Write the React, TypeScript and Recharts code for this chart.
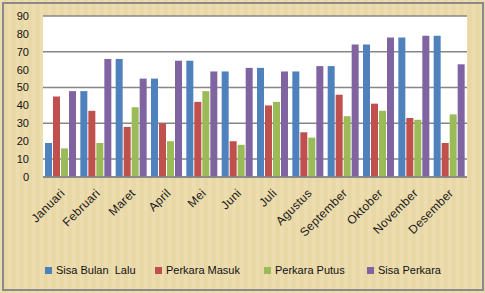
import React from 'react';
import { BarChart, Bar, XAxis, YAxis, CartesianGrid } from 'recharts';

const months = ['Januari','Februari','Maret','April','Mei','Juni','Juli','Agustus','September','Oktober','November','Desember'];
const sisaBulanLalu = [19, 48, 66, 55, 65, 59, 61, 59, 62, 74, 78, 79];
const perkaraMasuk = [45, 37, 28, 30, 42, 20, 40, 25, 46, 41, 33, 19];
const perkaraPutus = [16, 19, 39, 20, 48, 18, 42, 22, 34, 37, 32, 35];
const sisaPerkara = [48, 66, 55, 65, 59, 61, 59, 62, 74, 78, 79, 63];
const yTicks = [0, 10, 20, 30, 40, 50, 60, 70, 80, 90];

const seriesNames = ['Sisa Bulan  Lalu', 'Perkara Masuk', 'Perkara Putus', 'Sisa Perkara'];
const seriesKeys = ['a', 'b', 'c', 'd'];
const colors = ['#4F81BD', '#C0504D', '#9BBB59', '#8064A2'];

const data = months.map((m, i) => ({
  name: m,
  a: sisaBulanLalu[i],
  b: perkaraMasuk[i],
  c: perkaraPutus[i],
  d: sisaPerkara[i],
}));

const FONT = '"Liberation Sans", Arial, sans-serif';

const XTick = (props: any) => {
  const { x, payload } = props;
  const ty = 191;
  const tx = x + 2;
  return (
    <text x={tx} y={ty} textAnchor="end" fontSize={12} letterSpacing={0.3} fontFamily={FONT} fill="#1a1a1a"
      transform={`rotate(-45, ${tx}, ${ty})`} dominantBaseline="central">
      {payload.value}
    </text>
  );
};

const legendX = [45, 155, 264, 367];

export default function App() {
  return (
    <div style={{ position: 'absolute', left: 0, top: 0, width: 485, height: 293, background: '#ebdaa9',
      backgroundImage: 'repeating-linear-gradient(90deg, rgba(255,255,255,0.07) 0px, rgba(255,255,255,0.07) 3px, rgba(170,140,70,0.05) 5px, rgba(255,255,255,0) 8px)' }}>
      <div style={{ position: 'absolute', left: 2, top: 2, width: 478, height: 285, border: '2px solid #8a8a8a' }} />
      <BarChart width={485} height={293} data={data}
        margin={{ top: 16, right: 18, left: 0, bottom: 56 }}
        barCategoryGap={2} barGap={1}>
        <CartesianGrid vertical={false} stroke="#868686" strokeWidth={1.5} fill="#ffffff" />
        <XAxis dataKey="name" axisLine={{ stroke: '#868686', strokeWidth: 1.5 }} tickLine={false}
          interval={0} tick={<XTick />} height={60} />
        <YAxis domain={[0, 90]} ticks={yTicks} width={43} axisLine={false} tickLine={false}
          tickSize={6} tickMargin={8}
          tick={{ fontSize: 11, fill: '#111', fontFamily: FONT }} />
        {seriesKeys.map((k, i) => (
          <Bar key={k} dataKey={k} name={seriesNames[i]} fill={colors[i]} isAnimationActive={false} />
        ))}
      </BarChart>
      {seriesNames.map((n, i) => (
        <div key={n} style={{ position: 'absolute', left: legendX[i], top: 263, height: 14, display: 'flex', alignItems: 'center', fontFamily: FONT, fontSize: 11, color: '#111', whiteSpace: 'pre' }}>
          <span style={{ display: 'inline-block', width: 7, height: 7, background: colors[i], marginRight: 4 }} />
          {n}
        </div>
      ))}
    </div>
  );
}
